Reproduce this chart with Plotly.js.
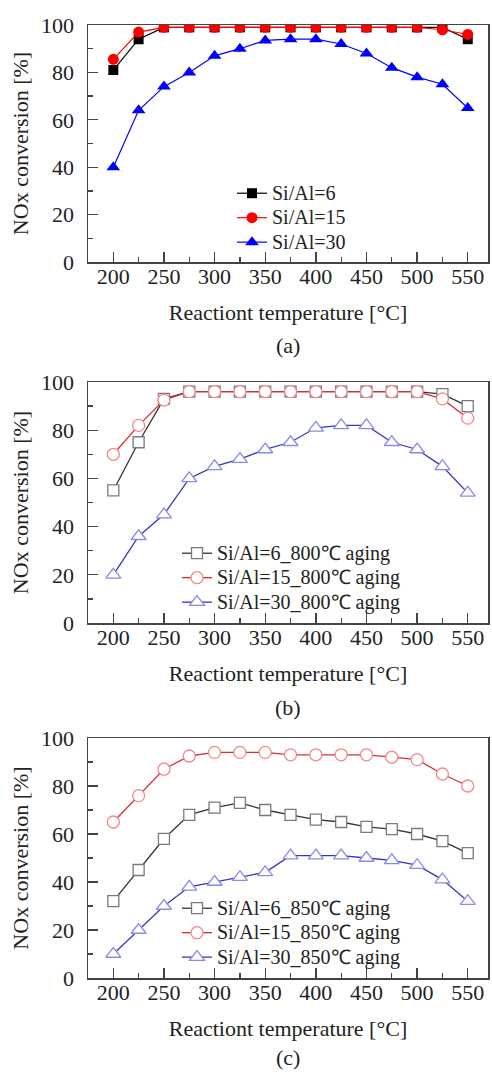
<!DOCTYPE html>
<html>
<head>
<meta charset="utf-8">
<script src="https://cdn.plot.ly/plotly-3.0.1.min.js"></script>
<style>html,body{margin:0;padding:0;background:#fff;}#chart{width:492px;height:1072px;}</style>
</head>
<body>
<div id="chart"></div>
<script>
// Data
const temperature = [200, 225, 250, 275, 300, 325, 350, 375, 400, 425, 450, 475, 500, 525, 550];

// (a) fresh
const a_si6  = [81, 94, 99, 99, 99, 99, 99, 99, 99, 99, 99, 99, 99, 99, 94];
const a_si15 = [85.5, 97, 99, 99, 99, 99, 99, 99, 99, 99, 99, 99, 99, 98, 96];
const a_si30 = [40, 64, 74, 80, 87, 90, 93.5, 94, 94, 92, 88, 82, 78, 75, 65];

// (b) 800°C aging
const b_si6  = [55, 75, 93, 96, 96, 96, 96, 96, 96, 96, 96, 96, 96, 95, 90];
const b_si15 = [70, 82, 92.5, 96, 96, 96, 96, 96, 96, 96, 96, 96, 96, 93, 85];
const b_si30 = [20, 36, 45, 60, 65, 68, 72, 75, 81, 82, 82, 75, 72, 65, 54];

// (c) 850°C aging
const c_si6  = [32, 45, 58, 68, 71, 73, 70, 68, 66, 65, 63, 62, 60, 57, 52];
const c_si15 = [65, 76, 87, 92.5, 94, 94, 94, 93, 93, 93, 93, 92, 91, 85, 80];
const c_si30 = [10, 20, 30, 38, 40, 42, 44, 51, 51, 51, 50, 49, 47, 41, 32];

const namesA = ['Si/Al=6', 'Si/Al=15', 'Si/Al=30'];
const namesB = ['Si/Al=6_800\u2103 aging', 'Si/Al=15_800\u2103 aging', 'Si/Al=30_800\u2103 aging'];
const namesC = ['Si/Al=6_850\u2103 aging', 'Si/Al=15_850\u2103 aging', 'Si/Al=30_850\u2103 aging'];
const captions = ['(a)', '(b)', '(c)'];
const xTitle = 'Reactiont temperature [\u00B0C]';
const yTitle = 'NOx conversion [%]';

const FONT = 'Liberation Serif';
const W = 492, H = 1072;

// legend text drawn at 20px while row spacing follows the (smaller) legend font size
const lbl = s => '<span style="font-size:20px">' + s + '</span>';

function filled(x, y, name, sym, col, size, xa, ya, leg) {
  return {x, y, name: lbl(name), type: 'scatter', mode: 'lines+markers', xaxis: xa, yaxis: ya, legend: leg,
    line: {color: col, width: 1.2},
    marker: {symbol: sym, size: size, color: col, line: {width: 0}}};
}
function hollow(x, y, name, sym, lcol, mcol, size, xa, ya, leg) {
  return {x, y, name: lbl(name), type: 'scatter', mode: 'lines+markers', xaxis: xa, yaxis: ya, legend: leg,
    line: {color: lcol, width: 1.3},
    marker: {symbol: sym, size: size, color: 'rgba(255,255,255,1)', line: {color: mcol, width: 1.3}}};
}

const data = [
  filled(temperature, a_si6,  namesA[0], 'square',        '#000000', 10, 'x',  'y',  'legend'),
  filled(temperature, a_si15, namesA[1], 'circle',        '#ff0000', 11, 'x',  'y',  'legend'),
  filled(temperature, a_si30, namesA[2], 'triangle-up',   '#0000ff', 12, 'x',  'y',  'legend'),
  hollow(temperature, b_si6,  namesB[0], 'square',      '#333333', '#7a7a7a', 11, 'x2', 'y2', 'legend2'),
  hollow(temperature, b_si15, namesB[1], 'circle',      '#d83030', '#f08a8a', 12, 'x2', 'y2', 'legend2'),
  hollow(temperature, b_si30, namesB[2], 'triangle-up', '#3535c8', '#8a8ae8', 13, 'x2', 'y2', 'legend2'),
  hollow(temperature, c_si6,  namesC[0], 'square',      '#333333', '#7a7a7a', 11, 'x3', 'y3', 'legend3'),
  hollow(temperature, c_si15, namesC[1], 'circle',      '#d83030', '#f08a8a', 12, 'x3', 'y3', 'legend3'),
  hollow(temperature, c_si30, namesC[2], 'triangle-up', '#3535c8', '#8a8ae8', 13, 'x3', 'y3', 'legend3')
];

// panel pixel boxes (top, bottom)
const panels = [[25, 262], [382, 623], [738, 978]];
const xl = 88, xr = 488;
const axColor = '#444';

function xAxis(i) {
  return {
    domain: [xl / W, xr / W], anchor: i === 0 ? 'y' : 'y' + (i + 1),
    range: [175, 570], tick0: 200, dtick: 50, ticks: 'inside', ticklen: 10, tickwidth: 1.3,
    tickcolor: axColor, showline: true, linecolor: axColor, linewidth: 1.5, mirror: true,
    showgrid: false, zeroline: false, ticklabelstandoff: -6,
    minor: {dtick: 25, tick0: 200, ticks: 'inside', ticklen: 5, tickwidth: 1.3, tickcolor: axColor, showgrid: false},
    tickfont: {family: FONT, size: 22, color: '#222'},
    title: {text: xTitle, font: {family: FONT, size: 22, color: '#222'}, standoff: 16}
  };
}
function yAxis(i) {
  const [t, b] = panels[i];
  return {
    domain: [(H - b) / H, (H - t) / H], anchor: i === 0 ? 'x' : 'x' + (i + 1),
    range: [0, 100], dtick: 20, ticks: 'inside', ticklen: 10, tickwidth: 1.3,
    tickcolor: axColor, showline: true, linecolor: axColor, linewidth: 1.5, mirror: true,
    showgrid: false, zeroline: false, ticklabelstandoff: 8,
    minor: {dtick: 10, ticks: 'inside', ticklen: 5, tickwidth: 1.3, tickcolor: axColor, showgrid: false},
    tickfont: {family: FONT, size: 22, color: '#222'},
    title: {text: yTitle, font: {family: FONT, size: 22, color: '#222'}, standoff: 6}
  };
}

function legendAt(px, py) {
  return {x: px / W, y: (H - py) / H, xanchor: 'left', yanchor: 'top', bgcolor: 'rgba(0,0,0,0)',
    borderwidth: 0, font: {family: FONT, size: 16.5, color: '#222'}, itemwidth: 30, tracegroupgap: 0};
}

const annotations = captions.map((c, i) => ({
  text: c, xref: 'paper', yref: 'paper', x: (xl + xr) / 2 / W, y: (H - [345, 707, 1057][i]) / H,
  xanchor: 'center', yanchor: 'middle', showarrow: false, font: {family: FONT, size: 22, color: '#222'}
}));

const layout = {
  width: W, height: H, margin: {l: 0, r: 0, t: 0, b: 0},
  paper_bgcolor: '#fff', plot_bgcolor: '#fff',
  font: {family: FONT, color: '#222'},
  showlegend: true,
  xaxis: xAxis(0), yaxis: yAxis(0),
  xaxis2: xAxis(1), yaxis2: yAxis(1),
  xaxis3: xAxis(2), yaxis3: yAxis(2),
  legend: legendAt(232, 176),
  legend2: legendAt(177, 536),
  legend3: legendAt(177, 891),
  annotations
};

Plotly.newPlot('chart', data, layout, {displayModeBar: false, staticPlot: true});
</script>
</body>
</html>
